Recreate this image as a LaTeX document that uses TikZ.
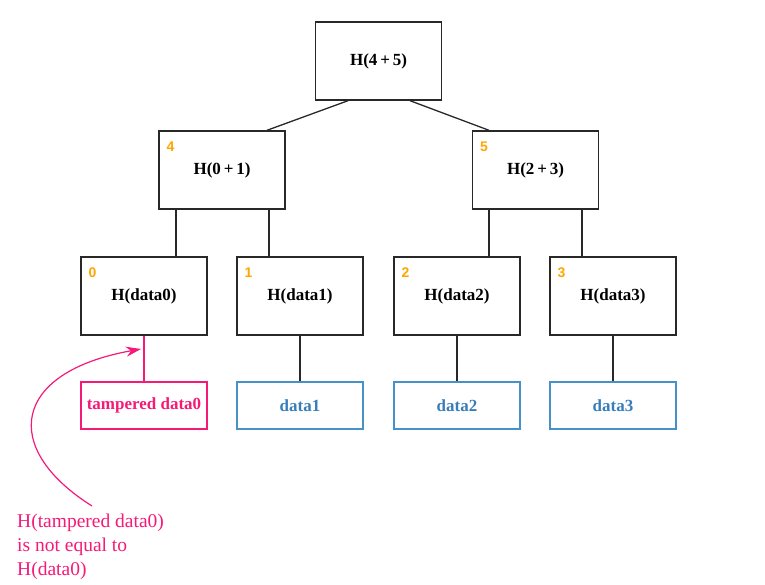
\documentclass[tikz,border=0pt]{standalone}
\usepackage{fontspec}
\setmainfont{Liberation Serif}
\newfontfamily\numfont{Liberation Sans}
\usetikzlibrary{arrows.meta,calc}
\definecolor{tamper}{RGB}{245,25,120}
\definecolor{datablue}{RGB}{70,145,200}
\definecolor{datatext}{RGB}{55,125,185}
\definecolor{idxorange}{RGB}{255,165,0}
\definecolor{boxline}{RGB}{40,40,40}
\begin{document}
\begin{tikzpicture}[x=1pt,y=-1pt,
  hashbox/.style={draw=boxline,line width=1.4pt,minimum width=126pt,minimum height=78pt,inner sep=0pt,
    font=\fontsize{17}{20}\selectfont\bfseries},
  databox/.style={draw=datablue,line width=1.3pt,minimum width=126pt,minimum height=47pt,inner sep=0pt,
    text=datatext,font=\fontsize{17}{20}\selectfont\bfseries},
  tamperbox/.style={databox,draw=tamper,text=tamper},
  idx/.style={anchor=north west,inner sep=0pt,text=idxorange,font=\numfont\fontsize{14}{16}\selectfont\bfseries},
  link/.style={draw=boxline,line width=1.3pt},
  tlink/.style={draw=tamper,line width=1.3pt}]
\useasboundingbox (0,0) rectangle (765,585);
% hash nodes
\node[hashbox] (root) at (378.5,61) {H(4\,+\,5)};
\node[hashbox] (n4) at (222,170) {H(0\,+\,1)};
\node[hashbox] (n5) at (535.5,170) {H(2\,+\,3)};
\node[hashbox] (h0) at (144,296) {H(data0)};
\node[hashbox] (h1) at (300,296) {H(data1)};
\node[hashbox] (h2) at (457,296) {H(data2)};
\node[hashbox] (h3) at (613,296) {H(data3)};
% index labels
\node[idx] (i4) at ($(n4.north west)+(8,11)$) {4};
\node[idx] (i5) at ($(n5.north west)+(8,11)$) {5};
\node[idx] (i0) at ($(h0.north west)+(8,11)$) {0};
\node[idx] (i1) at ($(h1.north west)+(8,11)$) {1};
\node[idx] (i2) at ($(h2.north west)+(8,11)$) {2};
\node[idx] (i3) at ($(h3.north west)+(8,11)$) {3};
% data nodes
\node[tamperbox] (d0) at (144,405.5) {tampered data0};
\node[databox] (d1) at (300,405.5) {data1};
\node[databox] (d2) at (457,405.5) {data2};
\node[databox] (d3) at (613,405.5) {data3};
% tree links
\draw[link] (root.south -| 348,0) -- (n4.north -| 267,0);
\draw[link] (root.south -| 410,0) -- (n5.north -| 489,0);
\draw[link] (n4.south -| 176,0) -- (h0.north -| 176,0);
\draw[link] (n4.south -| 269,0) -- (h1.north -| 269,0);
\draw[link] (n5.south -| 489,0) -- (h2.north -| 489,0);
\draw[link] (n5.south -| 582,0) -- (h3.north -| 582,0);
\draw[tlink] (h0.south) -- (d0.north);
\draw[link] (h1.south) -- (d1.north);
\draw[link] (h2.south) -- (d2.north);
\draw[link] (h3.south) -- (d3.north);
% annotation
\node[anchor=north west,inner sep=0pt,align=left,text=tamper,font=\fontsize{19.5}{24}\selectfont] (note) at (17,514)
  {H(tampered data0)\\is not equal to\\H(data0)};
\coordinate (tip) at (141,349);
\draw[tamper,line width=1.2pt,-{Stealth[length=15pt,width=10pt]}] ($(note.north west)+(75,-8)$)
  .. controls (0,448) and (12,372) .. (tip);
\end{tikzpicture}
\end{document}
